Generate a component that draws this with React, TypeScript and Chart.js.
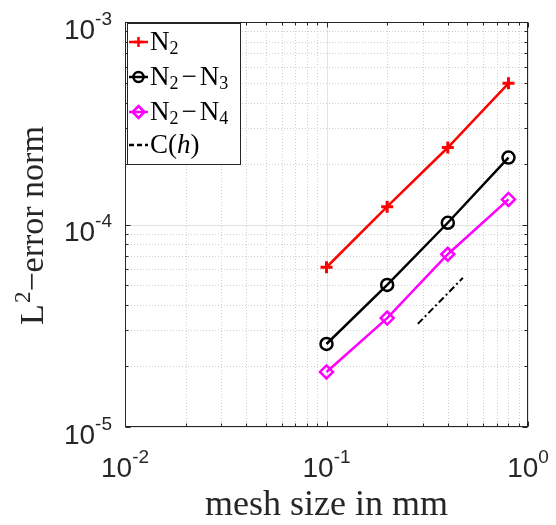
import React, { useEffect, useRef } from "react";
import { Chart, registerables } from "chart.js";

Chart.register(...registerables);

// ---- data ----
const meshSize = [0.1, 0.2, 0.4, 0.8];
const errN2 = [6.15e-5, 1.225e-4, 2.4e-4, 4.98e-4];
const errN2N3 = [2.57e-5, 5.03e-5, 1.02e-4, 2.14e-4];
const errN2N4 = [1.87e-5, 3.45e-5, 7.13e-5, 1.33e-4];
const refH = [0.284, 0.475];
const refC = [3.23e-5, 5.45e-5];

const xMin = 1e-2;
const xMax = 1;
const yMin = 1e-5;
const yMax = 1e-3;
const xTickExps = ["-2", "-1", "0"];
const yTickExps = ["-5", "-4", "-3"];
const xTitle = "mesh size in mm";
const yTitleMain = "L";
const yTitleSup = "2";
const yTitleRest = "\u2212error norm";

const SANS = '"Liberation Sans", Arial, Helvetica, sans-serif';
const SERIF = '"Liberation Serif", "Times New Roman", serif';
const AXIS = "#262626";

const RED = "#ff0000";
const BLACK = "#000000";
const MAGENTA = "#ff00ff";

type Seg = { t: string; sub?: boolean; italic?: boolean; gap?: number };
const legendEntries: { segs: Seg[]; color: string; marker: string; dash: number[] }[] = [
  { segs: [{ t: "N" }, { t: "2", sub: true }], color: RED, marker: "cross", dash: [] },
  {
    segs: [{ t: "N" }, { t: "2", sub: true }, { t: "\u2212", gap: 3 }, { t: "N" }, { t: "3", sub: true }],
    color: BLACK,
    marker: "circle",
    dash: [],
  },
  {
    segs: [{ t: "N" }, { t: "2", sub: true }, { t: "\u2212", gap: 3 }, { t: "N" }, { t: "4", sub: true }],
    color: MAGENTA,
    marker: "rectRot",
    dash: [],
  },
  { segs: [{ t: "C(" }, { t: "h", italic: true }, { t: ")" }], color: BLACK, marker: "none", dash: [5, 3] },
];

function drawMarker(ctx: CanvasRenderingContext2D, kind: string, x: number, y: number, color: string) {
  ctx.save();
  ctx.strokeStyle = color;
  ctx.lineWidth = 2.5;
  ctx.setLineDash([]);
  ctx.beginPath();
  if (kind === "cross") {
    ctx.moveTo(x - 5, y);
    ctx.lineTo(x + 5, y);
    ctx.moveTo(x, y - 5);
    ctx.lineTo(x, y + 5);
  } else if (kind === "circle") {
    ctx.arc(x, y, 5, 0, Math.PI * 2);
  } else if (kind === "rectRot") {
    ctx.moveTo(x, y - 6);
    ctx.lineTo(x + 6, y);
    ctx.lineTo(x, y + 6);
    ctx.lineTo(x - 6, y);
    ctx.closePath();
  }
  ctx.stroke();
  ctx.restore();
}

function drawPow(ctx: CanvasRenderingContext2D, exp: string, x: number, y: number, align: "center" | "right") {
  ctx.font = `28px ${SANS}`;
  const wb = ctx.measureText("10").width;
  ctx.font = `19px ${SANS}`;
  const we = ctx.measureText(exp).width;
  const total = wb + we;
  const x0 = align === "center" ? x - total / 2 : x - total;
  ctx.textAlign = "left";
  ctx.textBaseline = "alphabetic";
  ctx.fillStyle = AXIS;
  ctx.font = `28px ${SANS}`;
  ctx.fillText("10", x0, y);
  ctx.font = `19px ${SANS}`;
  ctx.fillText(exp, x0 + wb, y - 14);
}

const matlabPlugin = {
  id: "matlabLook",
  beforeDatasetsDraw(chart: any) {
    const ctx: CanvasRenderingContext2D = chart.ctx;
    const { left, right, top, bottom } = chart.chartArea;
    const xs = chart.scales.x;
    const ys = chart.scales.y;
    ctx.save();
    ctx.lineWidth = 1;
    ctx.strokeStyle = "#cfcfcf";
    ctx.setLineDash([1, 2]);
    for (let d = -2; d < 0; d++) {
      for (let m = 2; m <= 9; m++) {
        const px = Math.round(xs.getPixelForValue(m * Math.pow(10, d))) + 0.5;
        ctx.beginPath();
        ctx.moveTo(px, top);
        ctx.lineTo(px, bottom);
        ctx.stroke();
      }
    }
    for (let d = -5; d < -3; d++) {
      for (let m = 2; m <= 9; m++) {
        const py = Math.round(ys.getPixelForValue(m * Math.pow(10, d))) + 0.5;
        ctx.beginPath();
        ctx.moveTo(left, py);
        ctx.lineTo(right, py);
        ctx.stroke();
      }
    }
    ctx.setLineDash([]);
    ctx.strokeStyle = "#e3e3e3";
    for (let d = -2; d <= 0; d++) {
      const px = Math.round(xs.getPixelForValue(Math.pow(10, d))) + 0.5;
      ctx.beginPath();
      ctx.moveTo(px, top);
      ctx.lineTo(px, bottom);
      ctx.stroke();
    }
    for (let d = -5; d <= -3; d++) {
      const py = Math.round(ys.getPixelForValue(Math.pow(10, d))) + 0.5;
      ctx.beginPath();
      ctx.moveTo(left, py);
      ctx.lineTo(right, py);
      ctx.stroke();
    }
    ctx.restore();
  },
  afterDraw(chart: any) {
    const ctx: CanvasRenderingContext2D = chart.ctx;
    const { left, right, top, bottom } = chart.chartArea;
    const xs = chart.scales.x;
    const ys = chart.scales.y;
    ctx.save();
    ctx.strokeStyle = AXIS;
    ctx.lineWidth = 1;
    ctx.setLineDash([]);
    const L = Math.round(left) + 0.5,
      R = Math.round(right) - 0.5,
      T = Math.round(top) + 0.5,
      B = Math.round(bottom) - 0.5;
    ctx.strokeRect(L, T, R - L, B - T);
    ctx.beginPath();
    for (let d = -2; d <= 0; d++) {
      for (let m = 1; m <= (d === 0 ? 1 : 9); m++) {
        const len = m === 1 ? 5 : 3;
        const px = Math.round(xs.getPixelForValue(m * Math.pow(10, d))) + 0.5;
        ctx.moveTo(px, B);
        ctx.lineTo(px, B - len);
        ctx.moveTo(px, T);
        ctx.lineTo(px, T + len);
      }
    }
    for (let d = -5; d <= -3; d++) {
      for (let m = 1; m <= (d === -3 ? 1 : 9); m++) {
        const len = m === 1 ? 5 : 3;
        const py = Math.round(ys.getPixelForValue(m * Math.pow(10, d))) + 0.5;
        ctx.moveTo(L, py);
        ctx.lineTo(L + len, py);
        ctx.moveTo(R, py);
        ctx.lineTo(R - len, py);
      }
    }
    ctx.stroke();

    xTickExps.forEach((e) => {
      const px = xs.getPixelForValue(Math.pow(10, Number(e)));
      drawPow(ctx, e, px, bottom + 50, "center");
    });
    yTickExps.forEach((e) => {
      const py = ys.getPixelForValue(Math.pow(10, Number(e)));
      drawPow(ctx, e, left - 13, py + 16.5, "right");
    });

    ctx.fillStyle = AXIS;
    ctx.font = `36px ${SERIF}`;
    ctx.textAlign = "center";
    ctx.textBaseline = "alphabetic";
    ctx.fillText(xTitle, (left + right) / 2, 515);

    ctx.save();
    ctx.translate(43, (top + bottom) / 2 + 1);
    ctx.rotate(-Math.PI / 2);
    ctx.font = `34px ${SERIF}`;
    const wL = ctx.measureText(yTitleMain).width;
    const wRest = ctx.measureText(yTitleRest).width;
    ctx.font = `23px ${SERIF}`;
    const wS = ctx.measureText(yTitleSup).width + 1;
    const x0 = -(wL + wS + wRest) / 2;
    ctx.textAlign = "left";
    ctx.font = `34px ${SERIF}`;
    ctx.fillText(yTitleMain, x0, 0);
    ctx.font = `23px ${SERIF}`;
    ctx.fillText(yTitleSup, x0 + wL + 1, -13);
    ctx.font = `34px ${SERIF}`;
    ctx.fillText(yTitleRest, x0 + wL + wS, 0);
    ctx.restore();

    const bx = 127.5,
      by = 23.5,
      bw = 113,
      bh = 141;
    ctx.fillStyle = "#ffffff";
    ctx.fillRect(bx, by, bw, bh);
    ctx.strokeStyle = AXIS;
    ctx.lineWidth = 1;
    ctx.strokeRect(bx, by, bw, bh);
    const baselines = [50, 85, 120, 153];
    legendEntries.forEach((en, i) => {
      const bl = baselines[i];
      const iy = bl - 8;
      ctx.save();
      ctx.strokeStyle = en.color;
      ctx.lineWidth = 2.5;
      ctx.setLineDash(en.dash);
      ctx.beginPath();
      ctx.moveTo(129, iy);
      ctx.lineTo(148, iy);
      ctx.stroke();
      ctx.restore();
      drawMarker(ctx, en.marker, 138.5, iy, en.color);
      let tx = 150;
      ctx.fillStyle = "#000000";
      ctx.textAlign = "left";
      en.segs.forEach((s) => {
        if (s.sub) {
          ctx.font = `18px ${SERIF}`;
          ctx.fillText(s.t, tx, bl + 4);
          tx += ctx.measureText(s.t).width;
        } else {
          ctx.font = `${s.italic ? "italic " : ""}27px ${SERIF}`;
          const g = s.gap || 0;
          tx += g;
          ctx.fillText(s.t, tx, bl);
          tx += ctx.measureText(s.t).width + g;
        }
      });
    });
    ctx.restore();
  },
};

function pts(xv: number[], yv: number[]) {
  return xv.map((x, i) => ({ x, y: yv[i] }));
}

export default function App() {
  const ref = useRef<HTMLCanvasElement | null>(null);
  useEffect(() => {
    if (!ref.current) return;
    const chart = new Chart(ref.current, {
      type: "scatter",
      data: {
        datasets: [
          {
            label: "N2",
            data: pts(meshSize, errN2),
            showLine: true,
            borderColor: RED,
            backgroundColor: RED,
            borderWidth: 2.5,
            pointStyle: "cross",
            pointRadius: 6,
            pointBorderWidth: 3,
            pointBorderColor: RED,
          },
          {
            label: "N2-N3",
            data: pts(meshSize, errN2N3),
            showLine: true,
            borderColor: BLACK,
            backgroundColor: "rgba(0,0,0,0)",
            borderWidth: 2.5,
            pointStyle: "circle",
            pointRadius: 6,
            pointBorderWidth: 2.5,
            pointBorderColor: BLACK,
            pointBackgroundColor: "rgba(0,0,0,0)",
          },
          {
            label: "N2-N4",
            data: pts(meshSize, errN2N4),
            showLine: true,
            borderColor: MAGENTA,
            backgroundColor: "rgba(0,0,0,0)",
            borderWidth: 2.5,
            pointStyle: "rectRot",
            pointRadius: 6.5,
            pointBorderWidth: 2.5,
            pointBorderColor: MAGENTA,
            pointBackgroundColor: "rgba(0,0,0,0)",
          },
          {
            label: "C(h)",
            data: pts(refH, refC),
            showLine: true,
            borderColor: BLACK,
            borderWidth: 2,
            borderDash: [7, 3, 2, 3],
            pointRadius: 0,
          },
        ],
      },
      options: {
        responsive: false,
        animation: false,
        layout: { padding: { left: 125, right: 28, top: 22, bottom: 98 } },
        plugins: { legend: { display: false }, tooltip: { enabled: false } },
        scales: {
          x: { type: "logarithmic", min: xMin, max: xMax, display: false },
          y: { type: "logarithmic", min: yMin, max: yMax, display: false },
        },
      },
      plugins: [matlabPlugin],
    });
    return () => chart.destroy();
  }, []);
  return (
    <div style={{ position: "fixed", left: 0, top: 0, width: 556, height: 525, background: "#fff" }}>
      <canvas ref={ref} width={556} height={525} style={{ width: 556, height: 525 }} />
    </div>
  );
}
